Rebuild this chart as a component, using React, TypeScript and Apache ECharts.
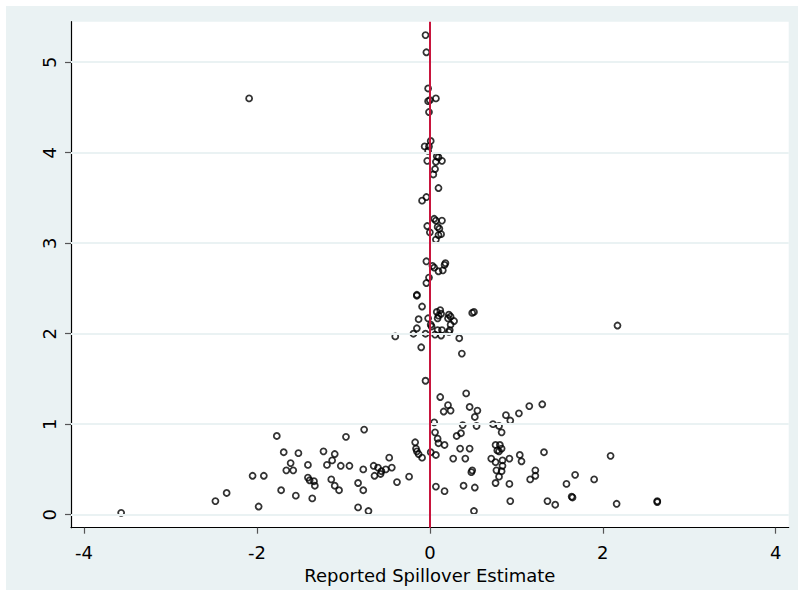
import React, { useEffect, useRef } from "react";
import * as echarts from "echarts";

// Reported spillover estimate (x) and precision (y) for each study
const estimates = [
  -0.05, -0.04, -0.02, 0.07, -0.02, 0.0, -0.01, 0.01, -0.06, -0.01,
  -0.02, -0.03, 0.08, 0.1, 0.07, 0.14, 0.06, 0.04, 0.1, -0.04,
  -0.09, 0.05, 0.07, 0.14, -0.03, 0.09, 0.11, 0.0, 0.13, 0.1,
  0.07, -0.04, 0.03, 0.05, 0.1, 0.15, 0.18, 0.17, -0.01, -0.04,
  -0.15, -0.15, -0.09, 0.12, 0.08, 0.13, 0.1, 0.09, 0.22, 0.24,
  0.21, 0.28, 0.24, 0.23, 0.22, 0.49, 0.51, -0.13, -0.02, 0.01,
  0.02, -0.15, -0.05, -0.19, -0.4, -0.1, 0.06, 0.09, 0.13, 0.14,
  0.34, 0.37, -0.05, 2.17, -2.09,
  -3.57, -2.48, -2.35, -2.05, -1.92, -1.98, -1.77, -1.69, -1.52, -1.61,
  -1.66, -1.58, -1.72, -1.55, -1.41, -1.41, -1.39, -1.34, -1.33, -1.36,
  -1.23, -1.1, -1.13, -1.19, -1.14, -1.1, -1.05, -0.97, -1.03, -0.93,
  -0.76, -0.77, -0.83, -0.77, -0.83, -0.71, -0.65, -0.6, -0.56, -0.51,
  -0.57, -0.47, -0.44, -0.64, -0.38, -0.24, -0.17, -0.16, -0.15, -0.13,
  -0.09, 0.01, 0.05, 0.06, 0.09, 0.1, 0.17, 0.07, 0.12, 0.21,
  0.16, 0.24, 0.42, 0.46, 0.52, 0.55, 0.38, 0.54, 0.36, 0.31,
  0.35, 0.46, 0.27, 0.41, 0.49, 0.48, 0.07, 0.17, 0.39, 0.52,
  0.51, 0.73, 0.8, 0.83, 0.88, 0.93, 1.03, 1.15, 1.3, 0.76,
  0.81, 0.78, 0.8, 0.83, 0.71, 0.76, 0.84, 0.92, 0.77, 0.84,
  0.83, 0.8, 0.76, 0.92, 0.93, 1.04, 1.06, 1.32, 2.09, 1.22,
  1.22, 1.16, 1.68, 1.58, 1.9, 1.36, 1.45, 1.64, 1.65, 2.16,
  2.63, 2.63,
];

const precision = [
  5.3, 5.11, 4.71, 4.6, 4.57, 4.58, 4.45, 4.13, 4.07, 4.07,
  4.02, 3.91, 3.96, 3.95, 3.9, 3.91, 3.82, 3.76, 3.61, 3.51,
  3.47, 3.27, 3.25, 3.25, 3.19, 3.18, 3.16, 3.12, 3.1, 3.09,
  3.04, 2.8, 2.75, 2.73, 2.69, 2.7, 2.78, 2.76, 2.62, 2.56,
  2.43, 2.42, 2.3, 2.26, 2.24, 2.22, 2.2, 2.17, 2.21, 2.19,
  2.17, 2.14, 2.1, 2.04, 2.02, 2.23, 2.24, 2.16, 2.17, 2.1,
  2.08, 2.06, 2.0, 2.0, 1.97, 1.85, 1.99, 2.04, 1.98, 2.04,
  1.95, 1.78, 1.48, 2.09, 4.6,
  0.02, 0.15, 0.24, 0.43, 0.43, 0.09, 0.87, 0.69, 0.68, 0.57,
  0.49, 0.49, 0.27, 0.21, 0.55, 0.41, 0.38, 0.37, 0.32, 0.18,
  0.7, 0.67, 0.6, 0.55, 0.39, 0.32, 0.27, 0.86, 0.54, 0.54,
  0.94, 0.5, 0.35, 0.27, 0.08, 0.04, 0.54, 0.52, 0.48, 0.5,
  0.45, 0.63, 0.52, 0.43, 0.36, 0.42, 0.8, 0.73, 0.7, 0.67,
  0.63, 0.69, 1.02, 0.91, 0.84, 0.79, 0.77, 0.66, 1.3, 1.21,
  1.14, 1.15, 1.34, 1.19, 1.08, 1.15, 0.99, 0.98, 0.9, 0.87,
  0.73, 0.73, 0.62, 0.62, 0.49, 0.47, 0.31, 0.26, 0.32, 0.3,
  0.04, 1.0, 0.98, 0.91, 1.1, 1.04, 1.12, 1.2, 1.22, 0.77,
  0.77, 0.71, 0.7, 0.73, 0.62, 0.58, 0.6, 0.62, 0.49, 0.54,
  0.48, 0.42, 0.35, 0.34, 0.15, 0.66, 0.59, 0.69, 0.65, 0.49,
  0.43, 0.39, 0.44, 0.34, 0.39, 0.15, 0.11, 0.2, 0.19, 0.12,
  0.15, 0.14,
];

const xTicks = [-4, -2, 0, 2, 4];
const yTicks = [0, 1, 2, 3, 4, 5];
const referenceLine = 0;
const xAxisTitle = "Reported Spillover Estimate";

export default function App() {
  const ref = useRef<HTMLDivElement>(null);

  useEffect(() => {
    if (!ref.current) return;
    const chart = echarts.init(ref.current, null, { renderer: "svg" });
    const font = "DejaVu Sans";
    const points = estimates.map((x, i) => [x, precision[i]]);

    chart.setOption({
      animation: false,
      backgroundColor: "#EAF2F3",
      grid: {
        left: 65,
        right: 9.3,
        top: 15.7,
        bottom: 62.3,
        show: true,
        backgroundColor: "#ffffff",
        borderWidth: 0,
      },
      xAxis: {
        type: "value",
        min: -4.15,
        max: 4.15,
        name: xAxisTitle,
        nameLocation: "middle",
        nameGap: 36,
        nameTextStyle: { fontFamily: font, fontSize: 18, color: "#000" },
        axisLine: { onZero: false, lineStyle: { color: "#000", width: 1.2 } },
        axisTick: { customValues: xTicks, length: 6, lineStyle: { color: "#555", width: 1.2 } },
        axisLabel: { customValues: xTicks, margin: 16, fontFamily: font, fontSize: 18, color: "#000" },
        splitLine: { show: false },
      },
      yAxis: {
        type: "value",
        min: -0.144,
        max: 5.448,
        axisLine: { show: true, onZero: false, lineStyle: { color: "#000", width: 1.2 } },
        axisTick: { show: true, customValues: yTicks, length: 6, lineStyle: { color: "#555", width: 1.2 } },
        axisLabel: { customValues: yTicks, rotate: 90, margin: 13, fontFamily: font, fontSize: 18, color: "#000" },
        splitLine: { show: false },
      },
      series: [
        {
          type: "scatter",
          data: [],
          z: 1,
          silent: true,
          markLine: {
            silent: true,
            symbol: "none",
            label: { show: false },
            lineStyle: { color: "#EAF2F3", width: 2, type: "solid" },
            data: yTicks.map((v) => ({ yAxis: v })),
          },
        },
        {
          type: "scatter",
          data: points,
          z: 2,
          symbol: "circle",
          symbolSize: 6,
          itemStyle: { color: "rgba(0,0,0,0)", borderColor: "#000", borderWidth: 1.8 },
        },
        {
          type: "scatter",
          data: [],
          z: 3,
          silent: true,
          markLine: {
            silent: true,
            symbol: "none",
            label: { show: false },
            lineStyle: { color: "#C8143C", width: 2, type: "solid" },
            data: [{ xAxis: referenceLine }],
          },
        },
      ],
    });

    return () => chart.dispose();
  }, []);

  return (
    <div
      ref={ref}
      style={{ position: "absolute", left: 6, top: 6, width: 792, height: 584 }}
    />
  );
}
